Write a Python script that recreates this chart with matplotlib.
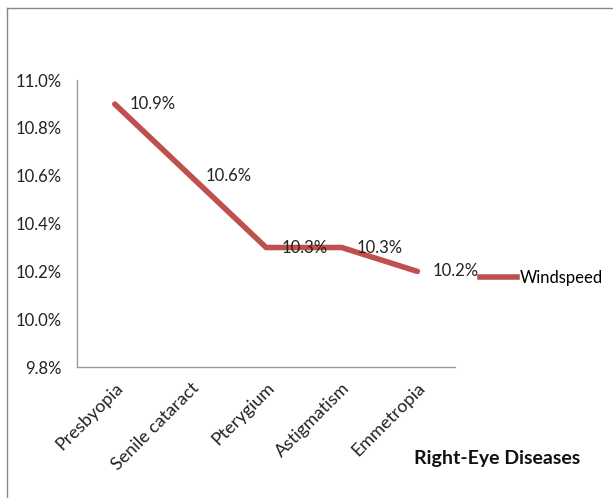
import matplotlib
matplotlib.use("Agg")
import matplotlib.pyplot as plt
from matplotlib.lines import Line2D
from matplotlib.ticker import FuncFormatter

diseases = ["Presbyopia", "Senile cataract", "Pterygium", "Astigmatism", "Emmetropia"]
values = [10.9, 10.6, 10.3, 10.3, 10.2]
labels = ["10.9%", "10.6%", "10.3%", "10.3%", "10.2%"]
series_name = "Windspeed"
yticks = [9.8, 10.0, 10.2, 10.4, 10.6, 10.8, 11.0]

RED = "#C0504D"
plt.rcParams["font.family"] = ["Lato", "DejaVu Sans"]

fig = plt.figure(figsize=(6.13, 4.98), dpi=100)
ax = fig.add_axes([0.1256, 0.263, 0.617, 0.576])

x = list(range(len(diseases)))
ax.plot(x, values, color=RED, lw=4, solid_capstyle="round", solid_joinstyle="miter")
for xi, v, lab in zip(x, values, labels):
    ax.annotate(lab, (xi, v), xytext=(11, 0), textcoords="offset points",
                ha="left", va="center", fontsize=12, color="#222")

ax.set_xlim(-0.5, len(diseases) - 0.5)
ax.set_ylim(9.8, 11.0)
ax.set_yticks(yticks)
ax.yaxis.set_major_formatter(FuncFormatter(lambda v, _: f"{v:.1f}%"))
ax.set_xticks(x)
ax.set_xticklabels(diseases, rotation=45, ha="right", rotation_mode="anchor", fontsize=13)
ax.tick_params(axis="y", length=0, labelsize=12, colors="#222", pad=11)
ax.tick_params(axis="x", length=0, colors="#222", pad=9)
for s in ("top", "right"):
    ax.spines[s].set_visible(False)
for s in ("left", "bottom"):
    ax.spines[s].set_color("#999")
    ax.spines[s].set_linewidth(1)

fig.text(0.947, 0.08, "Right-Eye Diseases", ha="right", va="center",
         fontsize=14, fontweight="bold", color="#111")

handle = Line2D([0], [0], color=RED, lw=4)
fig.legend([handle], [series_name], loc="center left", bbox_to_anchor=(0.783, 0.442),
           frameon=False, fontsize=12, handlelength=2.2, handletextpad=0.2,
           borderaxespad=0, borderpad=0)

# partial frame (top and left edges) as in the reference crop
fig.add_artist(Line2D([0.011, 0.011], [0, 0.984], transform=fig.transFigure,
                      color="#888", lw=1))
fig.add_artist(Line2D([0.011, 1.0], [0.984, 0.984], transform=fig.transFigure,
                      color="#888", lw=1))

fig.savefig("out.png", dpi=100)
